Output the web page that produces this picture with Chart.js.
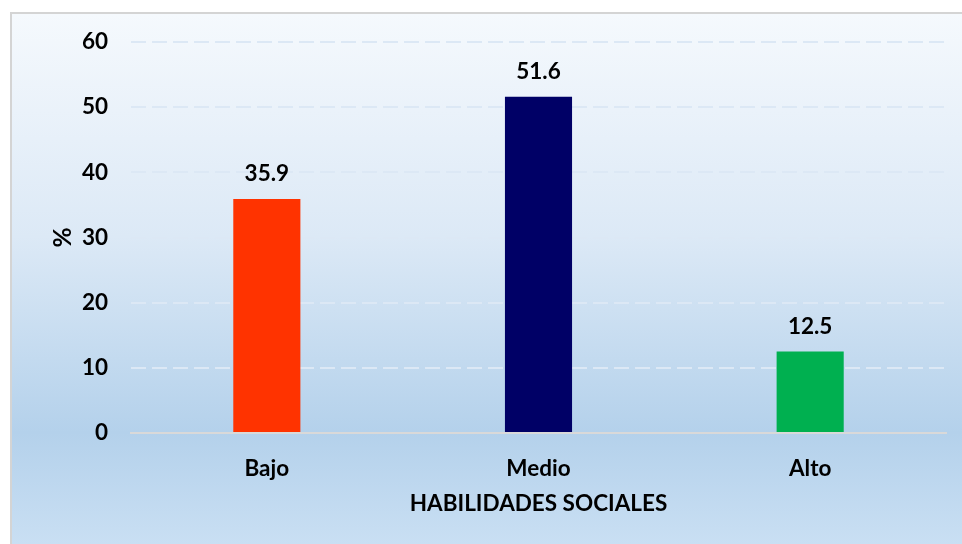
<!DOCTYPE html>
<html>
<head>
<meta charset="utf-8">
<script src="https://cdn.jsdelivr.net/npm/chart.js@4"></script>
<style>
    html, body { margin: 0; padding: 0; background: #fff; overflow: hidden; }
    #box {
        position: absolute; left: 10px; top: 12px; width: 952px; height: 532px;
        border-left: 2px solid #d4d4d4; border-top: 2px solid #d4d4d4;
        box-sizing: border-box;
        background: linear-gradient(to bottom, #f5f9fd 0%, #dce9f6 42%, #b4d1eb 79%, #c9dff3 100%);
    }
    #wrap { position: absolute; left: -2px; top: -2px; width: 952px; height: 532px; }
</style>
</head>
<body>
<div id="box"><div id="wrap"><canvas id="chart"></canvas></div></div>
<script>
const categories = ["Bajo", "Medio", "Alto"]
const values = [35.9, 51.6, 12.5]
const barColors = ["#ff3300", "#000066", "#00b050"]
const yTicks = [0, 10, 20, 30, 40, 50, 60]

const fontName = "Lato"
const fontSize = 22.5

// value labels above each bar
const valueLabels = {
    id: 'valueLabels',
    afterDatasetsDraw(chart) {
        const ctx = chart.ctx
        const meta = chart.getDatasetMeta(0)
        ctx.save()
        ctx.font = "bold " + fontSize + "px " + fontName
        ctx.fillStyle = "#000"
        ctx.textAlign = "center"
        ctx.textBaseline = "middle"
        meta.data.forEach((bar, i) => {
            ctx.fillText(values[i].toFixed(1), bar.x, bar.y - 25)
        })
        ctx.restore()
    }
}

new Chart(document.getElementById("chart"), {
    type: 'bar',
    data: {
        labels: categories,
        datasets: [{
            data: values,
            backgroundColor: barColors,
            barPercentage: 0.247,
            categoryPercentage: 1
        }]
    },
    options: {
        responsive: true,
        maintainAspectRatio: false,
        animation: false,
        layout: { padding: { top: 30, right: 16, left: 0, bottom: 0 } },
        plugins: {
            legend: { display: false },
            tooltip: { enabled: false }
        },
        scales: {
            x: {
                grid: { display: false },
                border: { display: true, color: "#d9d9d9", width: 2 },
                ticks: { color: "#000", font: { family: fontName, size: fontSize, weight: 'bold' }, padding: 14 },
                title: {
                    display: true, text: "HABILIDADES SOCIALES", color: "#000",
                    font: { family: fontName, size: fontSize, weight: 'bold' },
                    padding: { top: 0, bottom: 27 }
                },
                afterFit(scale) { scale.height = 111; scale.paddingLeft = 0; scale.paddingRight = 0 }
            },
            y: {
                min: 0, max: 60,
                afterBuildTicks(scale) { scale.ticks = yTicks.map(v => ({ value: v })) },
                grid: {
                    color: ctx => ctx.tick && ctx.tick.value === 0 ? "rgba(0,0,0,0)" : "#dce8f5",
                    lineWidth: 2,
                    drawTicks: false
                },
                border: { display: false, dash: [15, 6] },
                ticks: { color: "#000", font: { family: fontName, size: fontSize, weight: 'bold' }, padding: 23 },
                title: {
                    display: true, text: "%", color: "#000",
                    font: { family: fontName, size: fontSize + 2, weight: 'bold' },
                    padding: { top: 38, bottom: 0 }
                },
                afterFit(scale) { scale.width = 121; scale.paddingTop = 0; scale.paddingBottom = 0 }
            }
        }
    },
    plugins: [valueLabels]
});
</script>
</body>
</html>
